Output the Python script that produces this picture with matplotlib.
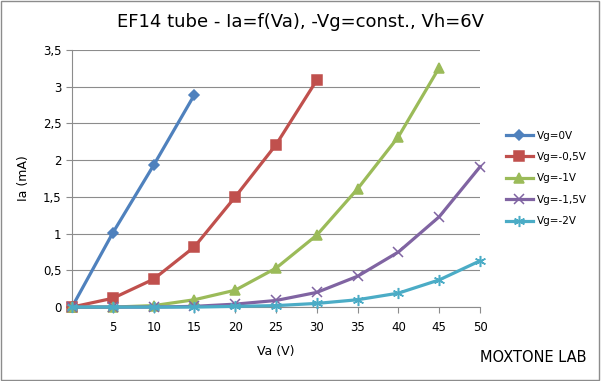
import numpy as np
import matplotlib
matplotlib.use('Agg')
import matplotlib.pyplot as plt
from matplotlib.patches import Rectangle

va = [0, 5, 10, 15, 20, 25, 30, 35, 40, 45, 50]
ia_0 = [0, 1.01, 1.93, 2.89]
ia_05 = [0, 0.12, 0.38, 0.82, 1.50, 2.21, 3.09]
ia_1 = [0, 0.0, 0.02, 0.10, 0.23, 0.53, 0.98, 1.61, 2.32, 3.26]
ia_15 = [0, 0.0, 0.0, 0.01, 0.04, 0.09, 0.20, 0.42, 0.75, 1.23, 1.91]
ia_2 = [0, 0.0, 0.0, 0.0, 0.01, 0.02, 0.05, 0.10, 0.19, 0.37, 0.63]

labels = ['Vg=0V', 'Vg=-0,5V', 'Vg=-1V', 'Vg=-1,5V', 'Vg=-2V']
colors = ['#4F81BD', '#C0504D', '#9BBB59', '#8064A2', '#4BACC6']
markers = ['D', 's', '^', 'x', (6, 2, 0)]
msizes = [5, 6.5, 7, 7, 8]

yticks = [0, 0.5, 1, 1.5, 2, 2.5, 3, 3.5]
ytick_labels = ['0', '0,5', '1', '1,5', '2', '2,5', '3', '3,5']

plt.rcParams['font.family'] = 'DejaVu Sans'
fig = plt.figure(figsize=(6.01, 3.81), dpi=100)
ax = fig.add_axes([0.1198, 0.194, 0.679, 0.675])

series = [ia_0, ia_05, ia_1, ia_15, ia_2]
for s, lab, c, m, ms in zip(series, labels, colors, markers, msizes):
    ax.plot(va[:len(s)], s, color=c, lw=2.3, marker=m, markersize=ms,
            markeredgewidth=1.1, label=lab, clip_on=False, zorder=3)

ax.set_xlim(0, 50)
ax.set_ylim(0, 3.5)
ax.set_xticks(va[1:])
ax.set_xticklabels([str(v) for v in va[1:]], fontsize=8.5)
ax.set_yticks(yticks)
ax.set_yticklabels(ytick_labels, fontsize=8.5)
ax.grid(axis='y', color='#8c8c8c', lw=0.8)
ax.set_axisbelow(True)
for sp in ['top', 'right']:
    ax.spines[sp].set_visible(False)
for sp in ['left', 'bottom']:
    ax.spines[sp].set_color('#8c8c8c')
ax.tick_params(axis='both', colors='#8c8c8c', labelcolor='black', length=4)
ax.tick_params(axis='x', pad=6)

ax.set_xlabel('Va (V)', fontsize=9, labelpad=8)
ax.set_ylabel('Ia (mA)', fontsize=9, labelpad=9)
fig.suptitle('EF14 tube - Ia=f(Va), -Vg=const., Vh=6V', fontsize=13, y=0.965)

ax.legend(loc='center left', bbox_to_anchor=(1.04, 0.5), frameon=False,
          fontsize=7.5, handlelength=2.6, handletextpad=0.4, labelspacing=1.1)

fig.text(0.887, 0.062, 'MOXTONE LAB', fontsize=10.5, ha='center', va='center')
fig.patches.append(Rectangle((0.002, 0.003), 0.995, 0.994, transform=fig.transFigure,
                             fill=False, edgecolor='#8c8c8c', lw=1.0))

fig.savefig('out.png', dpi=100)
